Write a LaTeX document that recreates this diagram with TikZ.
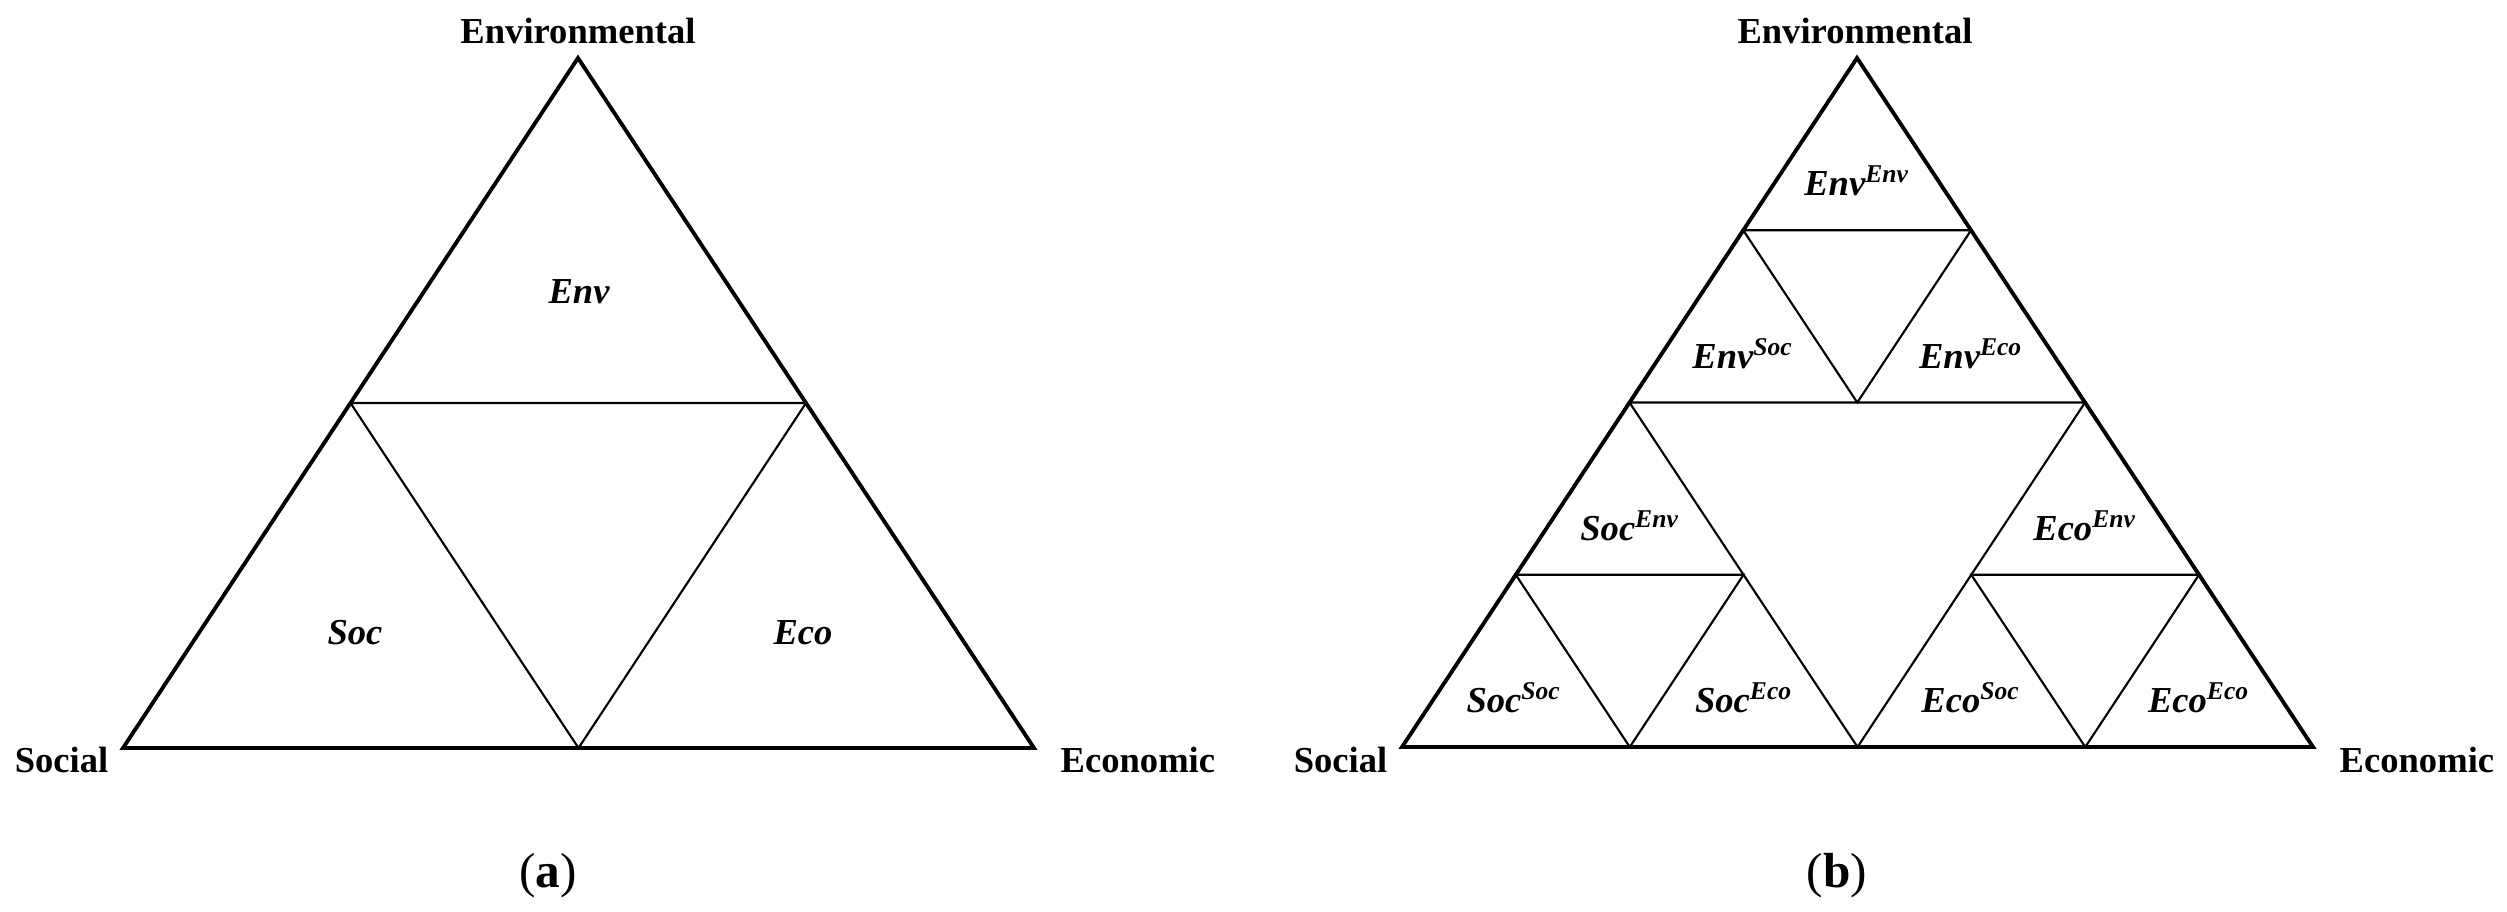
\documentclass[tikz,border=0pt]{standalone}
\usepackage{fontspec}
\setmainfont{Liberation Serif}
\usepackage{tikz}
\usetikzlibrary{positioning}

\newcommand{\pairlab}[2]{\textbf{\textit{#1}}\textsuperscript{\textbf{\textit{#2}}}}

\begin{document}
\begin{tikzpicture}[x=0.01cm, y=-0.01cm,
    outer/.style={line width=1.1pt},
    inner/.style={line width=0.6pt},
    corner/.style={font=\fontsize{10.4}{12}\selectfont\bfseries, inner sep=0pt},
    part/.style={font=\fontsize{10.4}{12}\selectfont\bfseries\itshape, inner sep=0pt},
    subcap/.style={font=\fontsize{14}{16}\selectfont, inner sep=0pt, anchor=base}]
  \useasboundingbox (0,0) rectangle (2507,911);

  % Define the coordinates of (a)
  \coordinate (A) at (578,58);
  \coordinate (B) at (123,748);
  \coordinate (C) at (1034,748);
  \coordinate (AB) at (350.5,403);
  \coordinate (AC) at (806,403);
  \coordinate (BC) at (578.5,748);

  % Draw the triangle (a)
  \draw[outer] (A) -- (B) -- (C) -- cycle;
  \draw[inner] (AB) -- (AC) -- (BC) -- cycle;

  % Draw the labels of (a)
  \node[corner, anchor=base] (envA) at (578,43) {Environmental};
  \node[corner, anchor=base east] (socA) at (109,772) {Social};
  \node[corner, anchor=base west] (ecoA) at (1060,772) {Economic};
  \node[part] (pEnv) at (579,292) {Env};
  \node[part] (pSoc) at (355,633) {Soc};
  \node[part] (pEco) at (803,633) {Eco};
  \node[subcap] (capA) at (548,887) {(\textbf{a})};

  % Define the coordinates of (b)
  \coordinate (T) at (1857,58);
  \coordinate (L) at (1402,747);
  \coordinate (R) at (2313,747);
  \coordinate (TL) at (1629.5,402.5);
  \coordinate (TR) at (2085,402.5);
  \coordinate (LR) at (1857.5,747);
  % top part
  \coordinate (tA) at (1743.25,230.25);
  \coordinate (tB) at (1971,230.25);
  \coordinate (tC) at (1857.25,402.5);
  % left part
  \coordinate (lA) at (1515.75,574.75);
  \coordinate (lB) at (1743.5,574.75);
  \coordinate (lC) at (1629.75,747);
  % right part
  \coordinate (rA) at (1971.25,574.75);
  \coordinate (rB) at (2199,574.75);
  \coordinate (rC) at (2085.25,747);

  % Draw the triangle (b)
  \draw[outer] (T) -- (L) -- (R) -- cycle;
  \draw[inner] (TL) -- (TR) -- (LR) -- cycle;
  \draw[inner] (tA) -- (tB) -- (tC) -- cycle;
  \draw[inner] (lA) -- (lB) -- (lC) -- cycle;
  \draw[inner] (rA) -- (rB) -- (rC) -- cycle;

  % Draw the labels of (b)
  \node[corner, anchor=base] (envB) at (1855,43) {Environmental};
  \node[corner, anchor=base east] (socB) at (1388,772) {Social};
  \node[corner, anchor=base west] (ecoB) at (2339,772) {Economic};
  \node[part] (pEnvEnv) at (1857,181) {\pairlab{Env}{Env}};
  \node[part] (pEnvSoc) at (1743,354) {\pairlab{Env}{Soc}};
  \node[part] (pEnvEco) at (1971,354) {\pairlab{Env}{Eco}};
  \node[part] (pSocEnv) at (1630,526) {\pairlab{Soc}{Env}};
  \node[part] (pSocSoc) at (1514,698) {\pairlab{Soc}{Soc}};
  \node[part] (pSocEco) at (1744,698) {\pairlab{Soc}{Eco}};
  \node[part] (pEcoEnv) at (2085,526) {\pairlab{Eco}{Env}};
  \node[part] (pEcoSoc) at (1971,698) {\pairlab{Eco}{Soc}};
  \node[part] (pEcoEco) at (2199,698) {\pairlab{Eco}{Eco}};
  \node[subcap] (capB) at (1837,887) {(\textbf{b})};
\end{tikzpicture}
\end{document}
